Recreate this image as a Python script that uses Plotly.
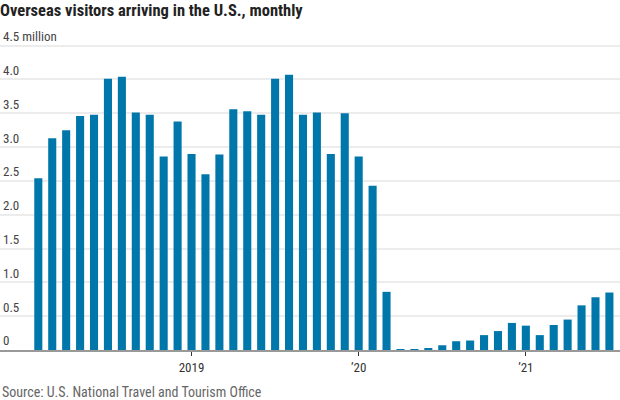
import plotly.graph_objects as go

months = [f"{y}-{m:02d}" for y, m in
          [(2018, m) for m in range(2, 13)] +
          [(2019, m) for m in range(1, 13)] +
          [(2020, m) for m in range(1, 13)] +
          [(2021, m) for m in range(1, 8)]]

visitors = [
    2.54, 3.13, 3.25, 3.46, 3.48, 4.01, 4.04, 3.51, 3.48, 2.86, 3.38,   # Feb-Dec 2018
    2.90, 2.60, 2.89, 3.56, 3.53, 3.48, 4.01, 4.07, 3.48, 3.51, 2.90, 3.50,  # 2019
    2.86, 2.43, 0.86, 0.01, 0.01, 0.03, 0.07, 0.13, 0.14, 0.22, 0.28, 0.40,  # 2020
    0.36, 0.22, 0.37, 0.45, 0.66, 0.78, 0.85,   # Jan-Jul 2021
]

x_tickvals = ["2019-01", "2020-01", "2021-01"]
x_ticktext = ["2019", "\u201920", "\u201921"]
y_tickvals = [0, 0.5, 1.0, 1.5, 2.0, 2.5, 3.0, 3.5, 4.0, 4.5]
y_ticktext = ["0", "0.5", "1.0", "1.5", "2.0", "2.5", "3.0", "3.5", "4.0", "4.5 million"]

FONT = "Liberation Sans Narrow, Roboto Condensed, Roboto, sans-serif"

fig = go.Figure(go.Bar(
    x=months, y=visitors,
    marker=dict(color="#0077ab", line=dict(width=0)),
    width=0.58,
))

fig.update_layout(
    width=620, height=400,
    margin=dict(l=0, r=0, t=22, b=50, autoexpand=False),
    paper_bgcolor="white", plot_bgcolor="white",
    showlegend=False,
    font=dict(family=FONT, color="#333333", size=13),
    title=dict(text="<b>Overseas visitors arriving in the U.S., monthly</b>",
               x=0, xref="paper", xanchor="left", y=0.99, yref="container", yanchor="top",
               font=dict(family=FONT, size=16.5, color="#222222")),
)

fig.update_xaxes(
    type="category", categoryorder="array", categoryarray=months,
    range=[-2.75, 41.76], automargin=False,
    tickmode="array", tickvals=x_tickvals, ticktext=x_ticktext,
    ticks="outside", ticklen=4, tickwidth=1, tickcolor="#333333",
    showline=True, linecolor="#999999", linewidth=2,
    showgrid=False, zeroline=False,
    tickfont=dict(size=13, color="#333333"),
    fixedrange=True,
)

fig.update_yaxes(
    range=[0, 4.85], automargin=False,
    tickmode="array", tickvals=y_tickvals, ticktext=y_ticktext,
    ticklabelposition="inside top", ticks="",
    showgrid=True, gridcolor="#ececec", gridwidth=2,
    zeroline=False, showline=False,
    tickfont=dict(size=13, color="#444444"),
    fixedrange=True,
)

fig.add_annotation(
    text="Source: U.S. National Travel and Tourism Office",
    xref="paper", yref="paper", x=0, y=-0.098, xanchor="left", yanchor="top",
    showarrow=False, font=dict(family=FONT, size=14, color="#666666"),
)

fig.write_html(
    "out.html",
    config={"displayModeBar": False},
    post_script="document.body.style.margin='0';document.body.style.padding='0';",
)
